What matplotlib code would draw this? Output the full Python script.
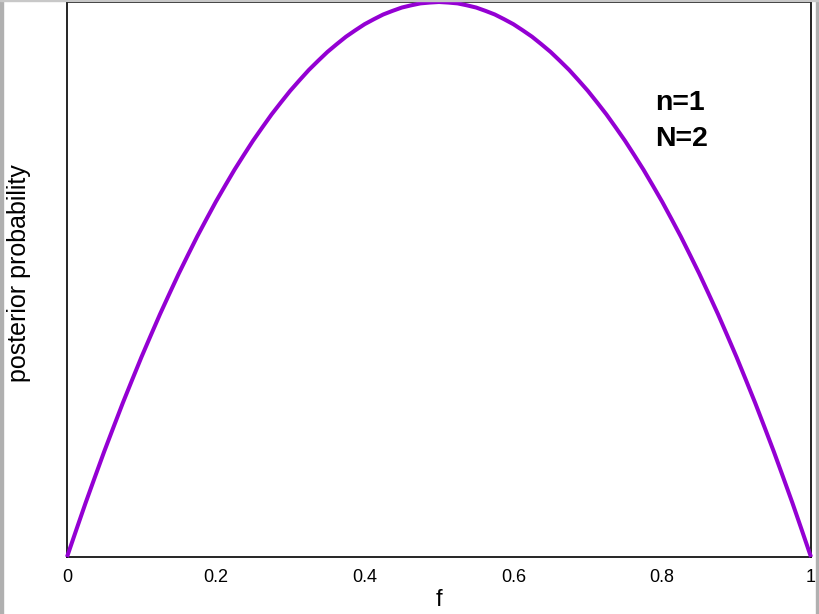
import matplotlib
matplotlib.use("Agg")
import matplotlib.pyplot as plt
import numpy as np
from matplotlib.patches import Rectangle

# values (posterior, arbitrary units, peak = 1), f from 0 to 1 in steps of 1/80
f_values = np.linspace(0.0, 1.0, 81)
posterior = [0.0, 0.049, 0.0975, 0.144, 0.19, 0.234, 0.2775, 0.319, 0.36, 0.399,
             0.4375, 0.474, 0.51, 0.544, 0.5775, 0.609, 0.64, 0.669, 0.6975, 0.724,
             0.75, 0.774, 0.7975, 0.819, 0.84, 0.859, 0.8775, 0.894, 0.91, 0.924,
             0.9375, 0.949, 0.96, 0.969, 0.9775, 0.984, 0.99, 0.994, 0.9975, 0.999,
             1.0,
             0.999, 0.9975, 0.994, 0.99, 0.984, 0.9775, 0.969, 0.96, 0.949, 0.9375,
             0.924, 0.91, 0.894, 0.8775, 0.859, 0.84, 0.819, 0.7975, 0.774, 0.75,
             0.724, 0.6975, 0.669, 0.64, 0.609, 0.5775, 0.544, 0.51, 0.474, 0.4375,
             0.399, 0.36, 0.319, 0.2775, 0.234, 0.19, 0.144, 0.0975, 0.049, 0.0]
xticks = [0, 0.2, 0.4, 0.6, 0.8, 1]
xtick_labels = ["0", "0.2", "0.4", "0.6", "0.8", "1"]
annot_lines = ["n=1", "N=2"]

plt.rcParams['font.family'] = ['Liberation Sans', 'DejaVu Sans']

W, H = 819, 614
fig = plt.figure(figsize=(W / 100, H / 100), dpi=100)
ax = fig.add_axes([67 / W, 1 - 557 / H, (811 - 67) / W, (557 - 2) / H])

ax.plot(f_values, posterior, color='#9400d3', lw=2.9, clip_on=False, zorder=5,
        solid_capstyle='butt', solid_joinstyle='round')
ax.set_xlim(0, 1)
ax.set_ylim(0, 1.0)
ax.set_xticks(xticks)
ax.set_xticklabels(xtick_labels, fontsize=13)
ax.set_yticks([])
ax.tick_params(axis='x', length=0, pad=9)
for s in ax.spines.values():
    s.set_linewidth(1.2)

ax.set_xlabel("f", fontsize=17)
ax.xaxis.set_label_coords(0.5, (557 - 589) / 555)
ax.set_ylabel("posterior probability", fontsize=18)
ax.yaxis.set_label_coords((31 - 67) / 744, (557 - 273) / 555)

fig.text(655 / W, 1 - 110 / H, annot_lines[0], fontsize=20.5, fontweight='bold')
fig.text(655 / W, 1 - 146 / H, annot_lines[1], fontsize=20.5, fontweight='bold')

# gray window border strips
fig.patches.append(Rectangle((0, 0), 3 / W, 1, transform=fig.transFigure,
                             color='#b0b0b0', zorder=0))
fig.patches.append(Rectangle((816 / W, 0), 3 / W, 1, transform=fig.transFigure,
                             color='#b0b0b0', zorder=0))
fig.patches.append(Rectangle((0, 1 - 1 / H), 1, 1 / H, transform=fig.transFigure,
                             color='#c8c8c8', zorder=0))

fig.savefig("out.png", dpi=100)
